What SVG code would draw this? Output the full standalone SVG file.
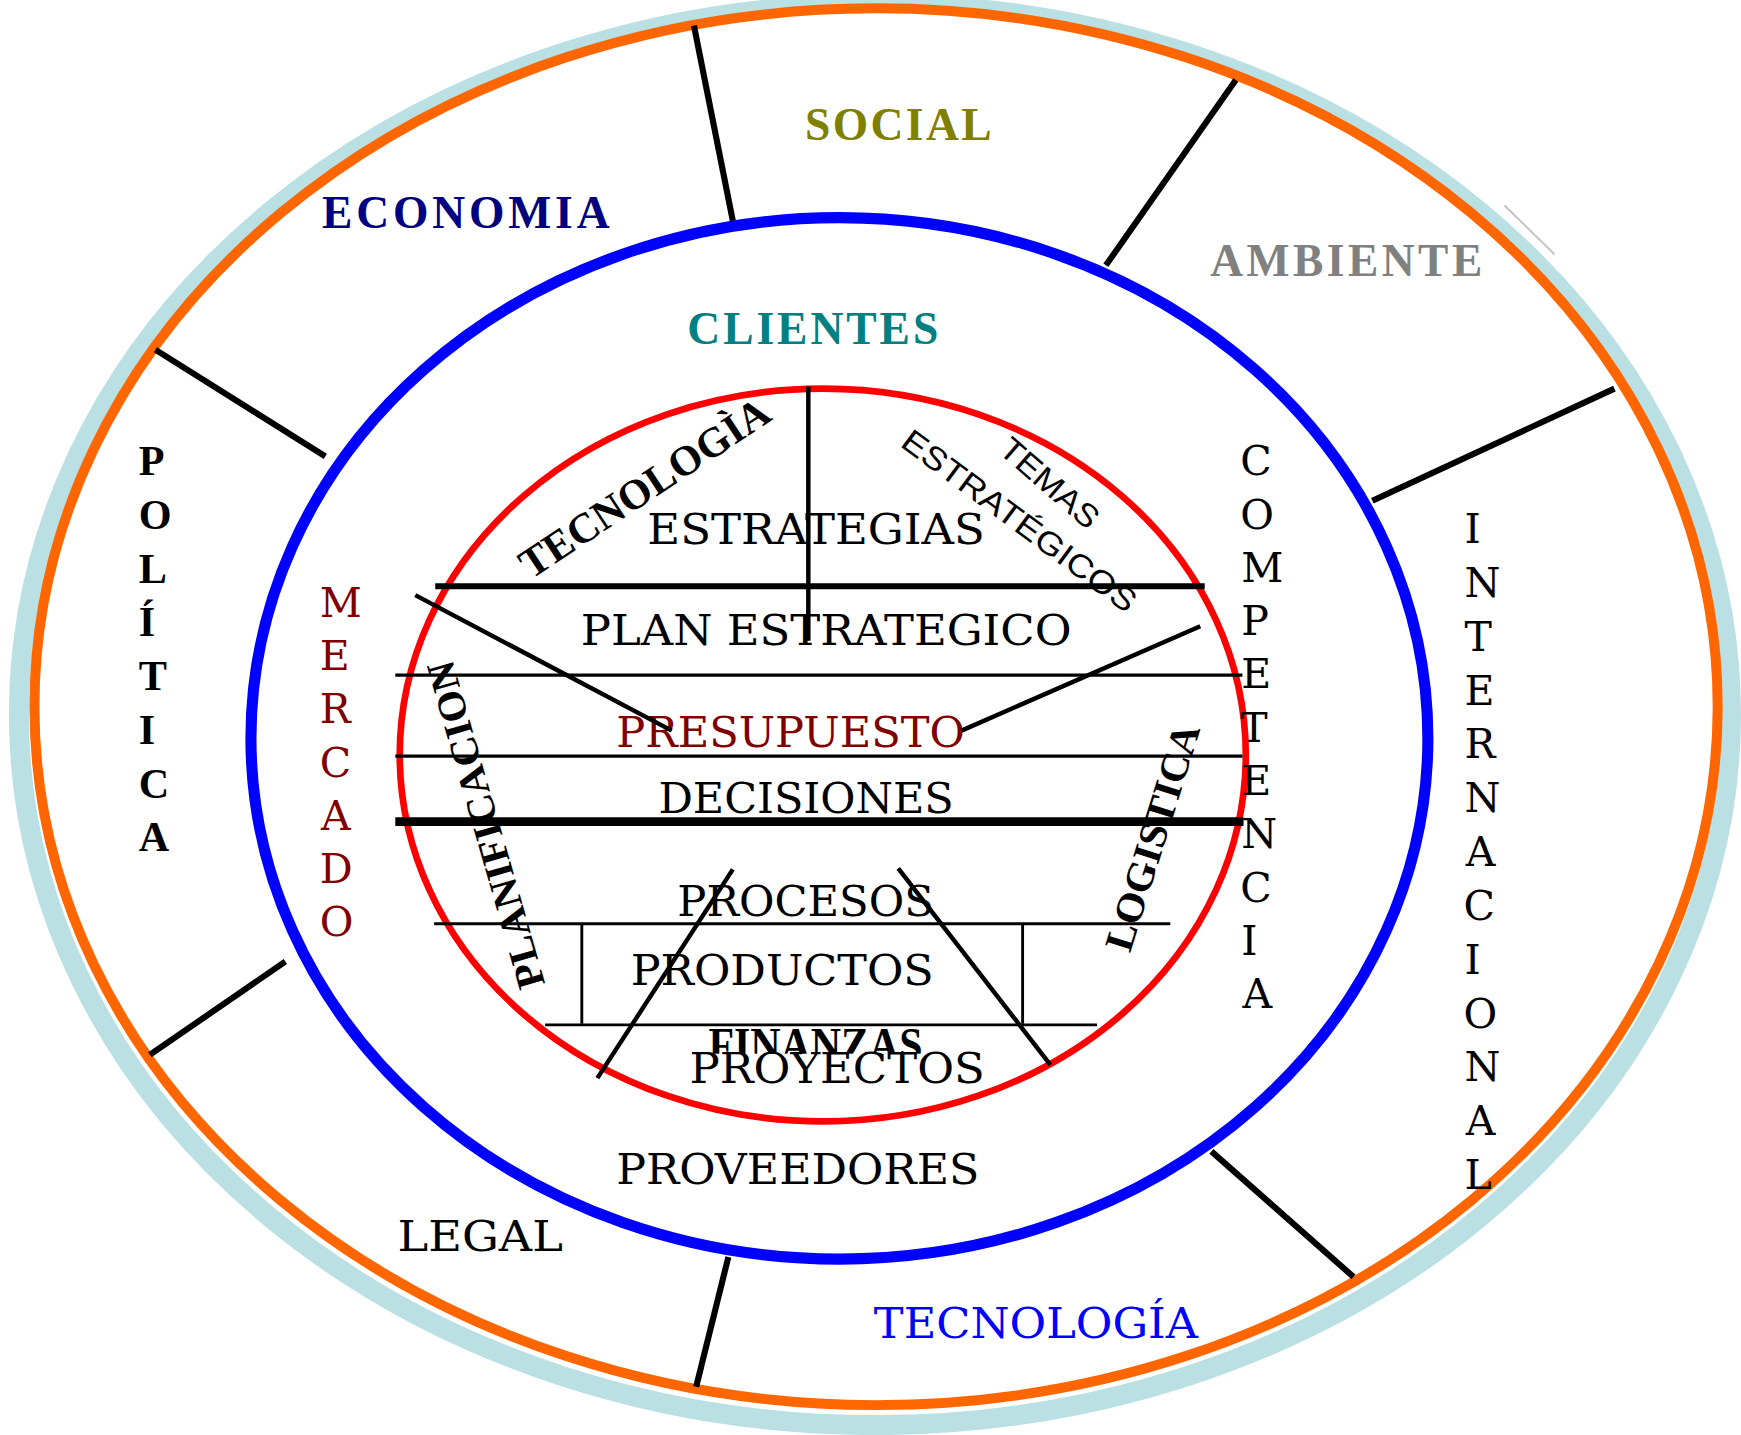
<svg xmlns="http://www.w3.org/2000/svg" width="1741" height="1435" viewBox="0 0 1741 1435">
<style>
.ln{stroke:#000;fill:none;stroke-linecap:butt}
.rad{stroke:#000;stroke-width:5.5;fill:none}
.mono{font-family:"DejaVu Serif","Liberation Serif",serif;font-size:38px;fill:#000}
.bold{font-family:"Liberation Serif","Times New Roman",serif;font-weight:bold;font-size:41px;fill:#000}
.sans{font-family:"Liberation Sans",Arial,sans-serif;font-size:29px;fill:#000}
.dred{fill:#800000}
.blue{fill:#0000FF}
</style>
<rect width="1741" height="1435" fill="#fff"/>
<g transform="scale(1.11033)">
  <g id="environment-ring">
    <ellipse cx="788" cy="643.5" rx="771" ry="640" fill="#fff" stroke="#BAE0E3" stroke-width="18"/>
    <ellipse cx="789" cy="636.5" rx="758" ry="629" fill="#fff" stroke="#FF6600" stroke-width="9"/>
    <line x1="1355" y1="185" x2="1400" y2="229" stroke="#c8c8c8" stroke-width="2"/>
  </g>
  <g id="clients-ring">
    <ellipse cx="756" cy="665" rx="530" ry="469" fill="#fff" stroke="#0000FF" stroke-width="10"/>
  </g>
  <g id="core">
    <ellipse cx="741" cy="680" rx="381" ry="330" fill="#fff" stroke="#FF0000" stroke-width="6"/>
  </g>

  <g id="social"><text class="bold" x="725" y="126" style="fill:#808000" textLength="168" lengthAdjust="spacing">SOCIAL</text></g>
  <g id="economia"><text class="bold" x="290" y="205" style="fill:#000080" textLength="259" lengthAdjust="spacing">ECONOMIA</text></g>
  <g id="ambiente"><text class="bold" x="1090" y="249" style="fill:#808080" textLength="245" lengthAdjust="spacing">AMBIENTE</text></g>
  <g id="clientes"><text class="bold" x="619" y="309.5" style="fill:#008080" textLength="226" lengthAdjust="spacing">CLIENTES</text></g>

  <g id="politica"><text class="bold" style="font-size:38px">
    <tspan x="125" y="428">P</tspan><tspan x="125" y="476.4">O</tspan><tspan x="125" y="524.8">L</tspan><tspan x="125" y="573.2">Í</tspan><tspan x="125" y="621.6">T</tspan><tspan x="125" y="670">I</tspan><tspan x="125" y="718.4">C</tspan><tspan x="125" y="766.8">A</tspan>
  </text></g>
  <g id="mercado"><text class="mono dred" style="font-size:37px">
    <tspan x="288" y="556">M</tspan><tspan x="288" y="603.8">E</tspan><tspan x="288" y="651.6">R</tspan><tspan x="288" y="699.4">C</tspan><tspan x="289" y="747.2">A</tspan><tspan x="288" y="795">D</tspan><tspan x="288" y="842.8">O</tspan>
  </text></g>
  <g id="competencia"><text class="mono" style="font-size:37px">
    <tspan x="1117" y="428">C</tspan><tspan x="1117" y="476">O</tspan><tspan x="1118" y="524">M</tspan><tspan x="1118" y="572">P</tspan><tspan x="1118" y="620">E</tspan><tspan x="1117" y="668">T</tspan><tspan x="1118" y="716">E</tspan><tspan x="1118" y="764">N</tspan><tspan x="1117" y="812">C</tspan><tspan x="1118" y="860">I</tspan><tspan x="1119" y="908">A</tspan>
  </text></g>
  <g id="internacional"><text class="mono" style="font-size:37px">
    <tspan x="1319" y="489">I</tspan><tspan x="1319" y="537.5">N</tspan><tspan x="1319" y="586">T</tspan><tspan x="1319" y="634.5">E</tspan><tspan x="1319" y="683">R</tspan><tspan x="1319" y="731.5">N</tspan><tspan x="1320" y="780">A</tspan><tspan x="1318" y="828.5">C</tspan><tspan x="1319" y="877">I</tspan><tspan x="1318" y="925.5">O</tspan><tspan x="1319" y="974">N</tspan><tspan x="1320" y="1022.5">A</tspan><tspan x="1319" y="1071">L</tspan>
  </text></g>

  <g id="estrategias"><text class="mono" x="583" y="490" textLength="304" lengthAdjust="spacingAndGlyphs">ESTRATEGIAS</text></g>
  <g id="plan-estrategico"><text class="mono" x="523" y="581" textLength="442" lengthAdjust="spacingAndGlyphs">PLAN ESTRATEGICO</text></g>
  <g id="presupuesto"><text class="mono dred" x="555" y="672.5" textLength="314" lengthAdjust="spacingAndGlyphs">PRESUPUESTO</text></g>
  <g id="decisiones"><text class="mono" x="593" y="732" textLength="266" lengthAdjust="spacingAndGlyphs">DECISIONES</text></g>
  <g id="procesos"><text class="mono" x="610" y="825" textLength="231" lengthAdjust="spacingAndGlyphs">PROCESOS</text></g>
  <g id="productos"><text class="mono" x="568" y="886.7" textLength="273" lengthAdjust="spacingAndGlyphs">PRODUCTOS</text></g>
  <g id="finanzas"><text class="bold" x="638" y="956" style="font-size:44px" textLength="193" lengthAdjust="spacingAndGlyphs">FINANZAS</text></g>
  <g id="proyectos"><rect x="618" y="949" width="274" height="30" fill="#fff"/><text class="mono" x="621" y="975" textLength="266" lengthAdjust="spacingAndGlyphs">PROYECTOS</text></g>
  <g id="proveedores"><text class="mono" x="555" y="1066.5" textLength="327" lengthAdjust="spacingAndGlyphs">PROVEEDORES</text></g>
  <g id="legal"><text class="mono" x="358" y="1126.7" textLength="149" lengthAdjust="spacingAndGlyphs">LEGAL</text></g>
  <g id="tecnologia-ext"><text class="mono blue" x="787" y="1205" textLength="292" lengthAdjust="spacingAndGlyphs">TECNOLOGÍA</text></g>

  <g id="tecnologia-int"><text class="bold" style="font-size:38px" text-anchor="middle" transform="translate(580.5 439.4) rotate(-33.5)" y="12.5" textLength="262" lengthAdjust="spacingAndGlyphs">TECNOLOGÌA</text></g>
  <g id="temas"><text class="sans" text-anchor="middle" transform="translate(945.5 435) rotate(41)" y="10" textLength="108" lengthAdjust="spacingAndGlyphs">TEMAS</text></g>
  <g id="estrategicos"><text class="sans" text-anchor="middle" transform="translate(918 469) rotate(36.5)" y="10" textLength="255" lengthAdjust="spacingAndGlyphs">ESTRATÉGICOS</text></g>
  <g id="planificacion"><text class="bold" style="font-size:36px" text-anchor="middle" transform="translate(437.5 743) rotate(-106)" y="12" textLength="305" lengthAdjust="spacingAndGlyphs">PLANIFICACION</text></g>
  <g id="logistica"><text class="bold" style="font-size:36px" text-anchor="middle" transform="translate(1038 754) rotate(-72.6)" y="12" textLength="212" lengthAdjust="spacingAndGlyphs">LOGISTICA</text></g>

  <g id="connectors">
    <line class="rad" x1="625" y1="23" x2="660" y2="199"/>
    <line class="rad" x1="1113" y1="72" x2="996" y2="239"/>
    <line class="rad" x1="1454" y1="350" x2="1236" y2="451"/>
    <line class="rad" x1="140" y1="315" x2="293" y2="411"/>
    <line class="rad" x1="257" y1="866" x2="135" y2="950"/>
    <line class="rad" x1="656" y1="1132" x2="627" y2="1249"/>
    <line class="rad" x1="1091" y1="1037" x2="1219" y2="1150"/>

    <line class="ln" stroke-width="4" x1="728" y1="348" x2="728" y2="577"/>
    <line class="ln" stroke-width="5.5" x1="392" y1="528" x2="1085" y2="528"/>
    <line class="ln" stroke-width="2.8" x1="356" y1="608" x2="1119" y2="608"/>
    <line class="ln" stroke-width="2.8" x1="356" y1="681" x2="1119" y2="681"/>
    <line class="ln" stroke-width="8" x1="356" y1="740" x2="1120" y2="740"/>
    <line class="ln" stroke-width="2.6" x1="391" y1="832" x2="1054" y2="832"/>
    <line class="ln" stroke-width="2.6" x1="524" y1="832" x2="524" y2="922"/>
    <line class="ln" stroke-width="2.6" x1="921" y1="832" x2="921" y2="922"/>
    <line class="ln" stroke-width="2.6" x1="491" y1="923" x2="988" y2="923"/>

    <line class="ln" stroke-width="4" x1="374" y1="536" x2="605" y2="658"/>
    <line class="ln" stroke-width="4" x1="1081" y1="564" x2="866" y2="658"/>
    <line class="ln" stroke-width="4" x1="660" y1="783" x2="538" y2="971"/>
    <line class="ln" stroke-width="4" x1="809" y1="782" x2="946" y2="959"/>
  </g>
</g>
</svg>
